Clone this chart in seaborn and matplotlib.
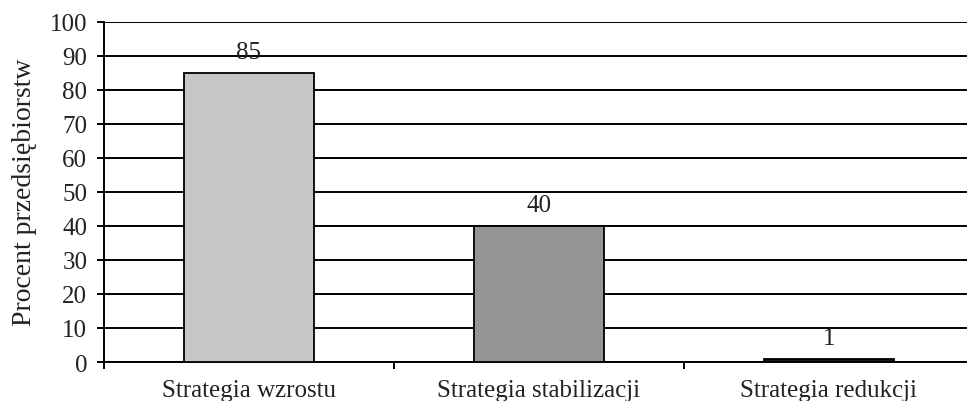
import matplotlib
matplotlib.use("Agg")
import matplotlib.pyplot as plt
import seaborn as sns
import pandas as pd

# data
categories = ["Strategia wzrostu", "Strategia stabilizacji", "Strategia redukcji"]
values = [85, 40, 1]
bar_colors = ["#c6c7c9", "#939598", "#1a1a1a"]
y_ticks = list(range(0, 101, 10))
y_label = "Procent przedsiębiorstw"


def main():
    sns.set_style("white")
    plt.rcParams["font.family"] = ["Liberation Serif", "DejaVu Serif"]

    df = pd.DataFrame({"strategia": categories, "procent": values})

    fig = plt.figure(figsize=(9.67, 4.02), dpi=100)
    ax = fig.add_axes([0.1075, 0.097, 0.8997, 0.847])

    sns.barplot(data=df, x="strategia", y="procent", hue="strategia",
                palette=bar_colors, legend=False, width=0.45,
                edgecolor="black", linewidth=1.3, zorder=3, ax=ax)

    ax.set_ylim(0, 100)
    ax.set_xlim(-0.5, len(categories) - 0.5)
    ax.set_yticks(y_ticks)
    ax.yaxis.grid(True, color="black", linewidth=1.4)
    ax.set_axisbelow(True)

    for s in ["top", "right"]:
        ax.spines[s].set_visible(False)
    for s in ["left", "bottom"]:
        ax.spines[s].set_color("black")
        ax.spines[s].set_linewidth(1.4)

    # category boundary ticks like in the original
    ax.set_xticks([i - 0.5 for i in range(len(categories) + 1)], minor=True)
    ax.tick_params(axis="x", which="minor", direction="out", length=5,
                   width=1.4, color="black", bottom=True)
    ax.tick_params(axis="x", which="major", length=0, pad=12, labelsize=18,
                   labelcolor="#222222")
    ax.tick_params(axis="y", direction="out", length=5, width=1.4,
                   color="black", left=True, pad=7, labelsize=18,
                   labelcolor="#222222")

    ax.set_xlabel("")
    ax.set_ylabel(y_label, fontsize=20, labelpad=9, color="#222222")

    for i, v in enumerate(values):
        ax.annotate(str(v), (i, v), xytext=(0, 10.5), textcoords="offset points",
                    ha="center", va="baseline", fontsize=18, color="#222222")

    fig.savefig("out.png", dpi=100)


if __name__ == "__main__":
    main()
